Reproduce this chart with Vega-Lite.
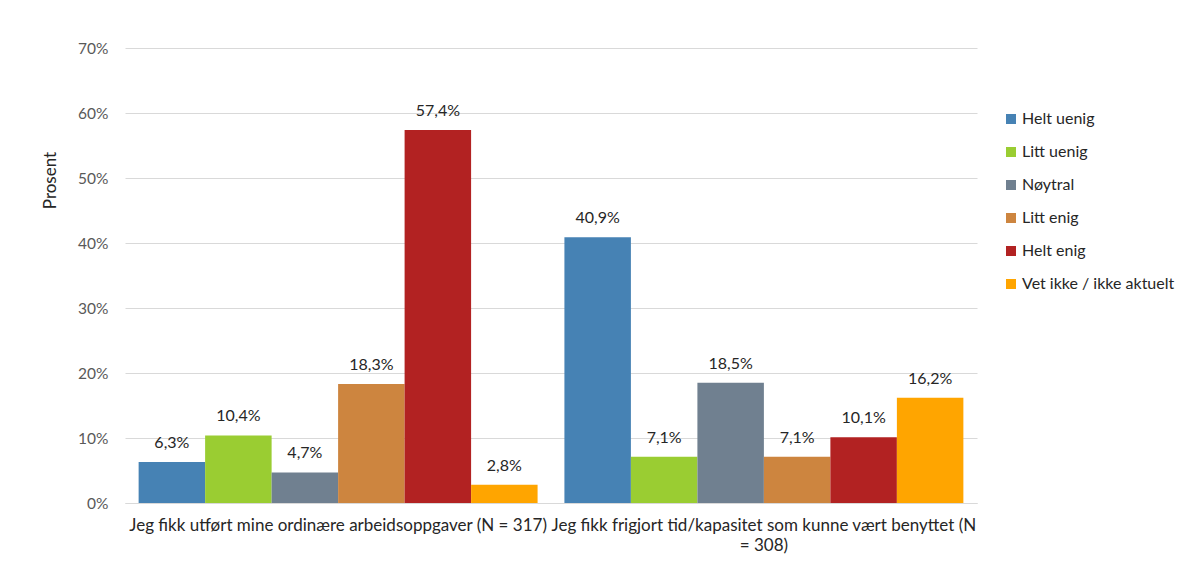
{
  "$schema": "https://vega.github.io/schema/vega-lite/v6.json",
  "width": 852,
  "height": 455,
  "autosize": {"type": "none"},
  "padding": {"left": 125, "top": 48, "right": 205, "bottom": 67},
  "background": "white",
  "config": {
    "locale": {"number": {"decimal": ",", "thousands": " ", "grouping": [3], "currency": ["", " kr"]}},
    "font": "Lato",
    "view": {"stroke": null}
  },
  "data": {
    "values": [
      {"sporsmal": "Jeg fikk utført mine ordinære arbeidsoppgaver (N = 317)", "svar": "Helt uenig", "andel": 0.063},
      {"sporsmal": "Jeg fikk utført mine ordinære arbeidsoppgaver (N = 317)", "svar": "Litt uenig", "andel": 0.104},
      {"sporsmal": "Jeg fikk utført mine ordinære arbeidsoppgaver (N = 317)", "svar": "Nøytral", "andel": 0.047},
      {"sporsmal": "Jeg fikk utført mine ordinære arbeidsoppgaver (N = 317)", "svar": "Litt enig", "andel": 0.183},
      {"sporsmal": "Jeg fikk utført mine ordinære arbeidsoppgaver (N = 317)", "svar": "Helt enig", "andel": 0.574},
      {"sporsmal": "Jeg fikk utført mine ordinære arbeidsoppgaver (N = 317)", "svar": "Vet ikke / ikke aktuelt", "andel": 0.028},
      {"sporsmal": "Jeg fikk frigjort tid/kapasitet som kunne vært benyttet (N = 308)", "svar": "Helt uenig", "andel": 0.409},
      {"sporsmal": "Jeg fikk frigjort tid/kapasitet som kunne vært benyttet (N = 308)", "svar": "Litt uenig", "andel": 0.071},
      {"sporsmal": "Jeg fikk frigjort tid/kapasitet som kunne vært benyttet (N = 308)", "svar": "Nøytral", "andel": 0.185},
      {"sporsmal": "Jeg fikk frigjort tid/kapasitet som kunne vært benyttet (N = 308)", "svar": "Litt enig", "andel": 0.071},
      {"sporsmal": "Jeg fikk frigjort tid/kapasitet som kunne vært benyttet (N = 308)", "svar": "Helt enig", "andel": 0.101},
      {"sporsmal": "Jeg fikk frigjort tid/kapasitet som kunne vært benyttet (N = 308)", "svar": "Vet ikke / ikke aktuelt", "andel": 0.162}
    ]
  },
  "encoding": {
    "x": {
      "field": "sporsmal",
      "type": "nominal",
      "sort": null,
      "scale": {"paddingInner": 0.063, "paddingOuter": 0.032},
      "axis": {
        "title": null,
        "labelAngle": 0,
        "labelFontSize": 17,
        "labelColor": "#262626",
        "labelPadding": 14,
        "labelLimit": 0,
        "ticks": false,
        "domainColor": "#d9d9d9",
        "labelExpr": "indexof(datum.value, 'frigjort') >= 0 ? ['Jeg fikk frigjort tid/kapasitet som kunne vært benyttet (N', '= 308)'] : datum.value",
        "labelLineHeight": 20
      }
    },
    "xOffset": {
      "field": "svar",
      "type": "nominal",
      "sort": ["Helt uenig", "Litt uenig", "Nøytral", "Litt enig", "Helt enig", "Vet ikke / ikke aktuelt"],
      "scale": {"paddingInner": 0, "paddingOuter": 0}
    },
    "y": {
      "field": "andel",
      "type": "quantitative",
      "scale": {"domain": [0, 0.7], "nice": false},
      "axis": {
        "title": "Prosent",
        "format": ".0%",
        "values": [0, 0.1, 0.2, 0.3, 0.4, 0.5, 0.6, 0.7],
        "labelOverlap": false,
        "labelFontSize": 15.5,
        "labelColor": "#595959",
        "labelPadding": 17,
        "ticks": false,
        "domain": false,
        "gridColor": "#d9d9d9",
        "gridWidth": 1,
        "titleFontSize": 17,
        "titleFontWeight": "normal",
        "titleColor": "#262626",
        "titleAngle": -90,
        "titleX": -75,
        "titleY": 132,
        "titleAlign": "center",
        "titleBaseline": "middle"
      }
    }
  },
  "layer": [
    {
      "mark": {"type": "bar"},
      "encoding": {
        "color": {
          "field": "svar",
          "type": "nominal",
          "sort": ["Helt uenig", "Litt uenig", "Nøytral", "Litt enig", "Helt enig", "Vet ikke / ikke aktuelt"],
          "scale": {
            "domain": ["Helt uenig", "Litt uenig", "Nøytral", "Litt enig", "Helt enig", "Vet ikke / ikke aktuelt"],
            "range": ["#4682B4", "#9ACD32", "#708090", "#CD853F", "#B22222", "#FFA500"]
          },
          "legend": {
            "title": null,
            "orient": "none",
            "legendX": 878,
            "legendY": 63,
            "symbolType": "square",
            "symbolSize": 100,
            "symbolStrokeWidth": 0,
            "labelFontSize": 16,
            "labelColor": "#262626",
            "rowPadding": 17,
            "labelOffset": 3,
            "labelLimit": 0
          }
        }
      }
    },
    {
      "mark": {"type": "text", "baseline": "bottom", "dy": -11, "fontSize": 16, "color": "#262626"},
      "encoding": {
        "text": {"field": "andel", "type": "quantitative", "format": ".1%"}
      }
    }
  ]
}
